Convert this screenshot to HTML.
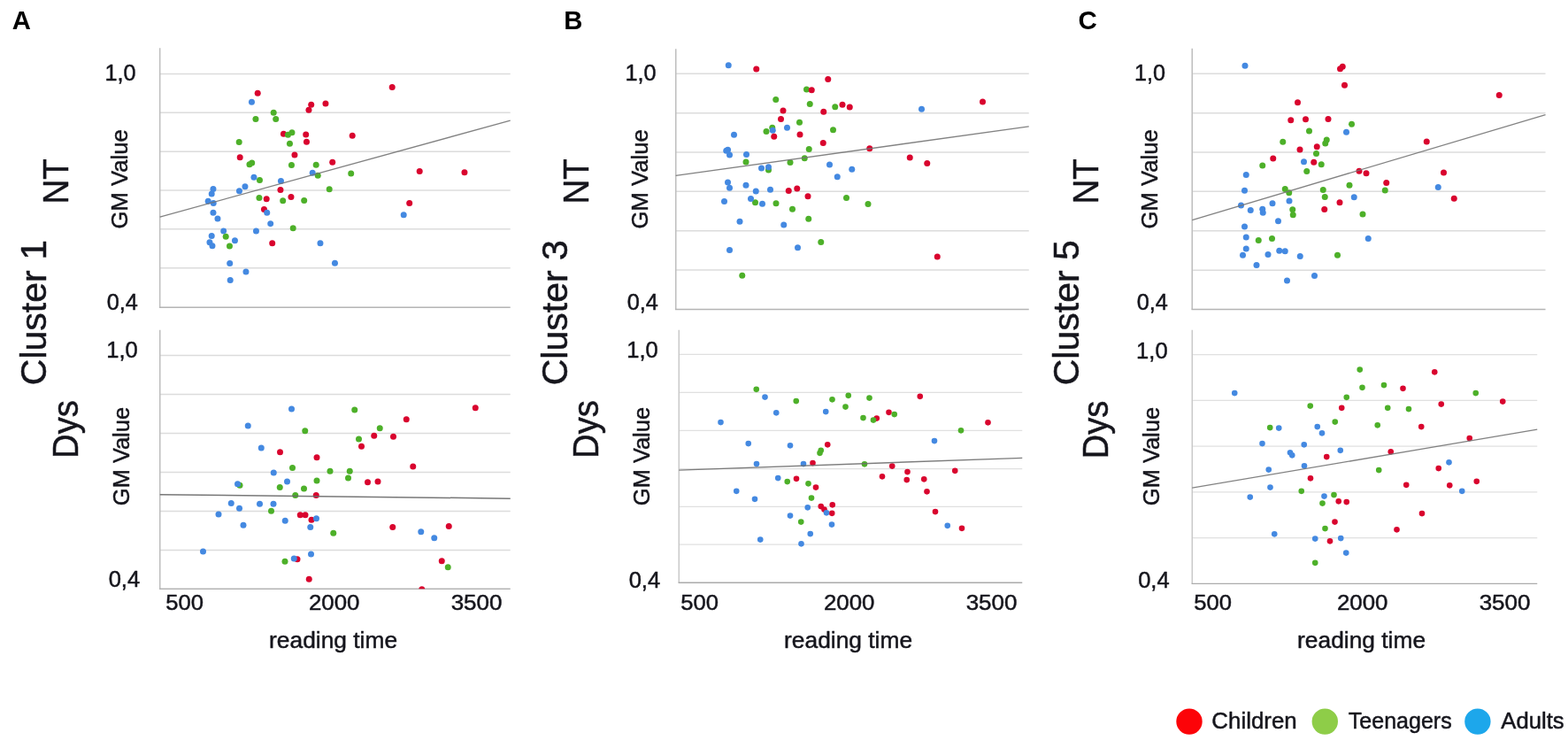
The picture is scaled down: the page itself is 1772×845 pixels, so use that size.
<!DOCTYPE html>
<html lang="en">
<head>
<meta charset="utf-8">
<title>Figure</title>
<style>
html,body{margin:0;padding:0;background:#fff;}
body{width:1772px;height:845px;overflow:hidden;}
svg{display:block;}
text{font-family:"Liberation Sans",sans-serif;fill:#15151c;}
.b{font-weight:bold;fill:#000;}
</style>
</head>
<body>
<svg width="1772" height="845" viewBox="0 0 1772 845">
<rect width="1772" height="845" fill="#fff"/>
<defs>
<clipPath id="cA1"><rect x="175.5" y="49" width="406.0" height="298.2"/></clipPath>
<clipPath id="cA2"><rect x="175.5" y="367.5" width="406.0" height="297.4"/></clipPath>
<clipPath id="cB1"><rect x="758.5" y="50" width="409.0" height="299.2"/></clipPath>
<clipPath id="cB2"><rect x="762" y="367.5" width="398" height="290.4"/></clipPath>
<clipPath id="cC1"><rect x="1342" y="49.5" width="409.29999999999995" height="299.7"/></clipPath>
<clipPath id="cC2"><rect x="1342" y="367.3" width="400" height="291.7"/></clipPath>
</defs>
<g transform="translate(0.2 0.15)">
<line x1="180.5" y1="83.3" x2="576.5" y2="83.3" stroke="#DCDCDC" stroke-width="1.5"/>
<line x1="180.5" y1="127.1" x2="576.5" y2="127.1" stroke="#DCDCDC" stroke-width="1.5"/>
<line x1="180.5" y1="171.0" x2="576.5" y2="171.0" stroke="#DCDCDC" stroke-width="1.5"/>
<line x1="180.5" y1="214.8" x2="576.5" y2="214.8" stroke="#DCDCDC" stroke-width="1.5"/>
<line x1="180.5" y1="258.7" x2="576.5" y2="258.7" stroke="#DCDCDC" stroke-width="1.5"/>
<line x1="180.5" y1="302.5" x2="576.5" y2="302.5" stroke="#DCDCDC" stroke-width="1.5"/>
<line x1="180.5" y1="54" x2="180.5" y2="347.2" stroke="#BEBEBE" stroke-width="1.5"/>
<line x1="179.75" y1="347.2" x2="576.5" y2="347.2" stroke="#B4B4B4" stroke-width="1.5"/>
<g clip-path="url(#cA1)">
<g fill="#D9042E">
<circle cx="443.0" cy="98.25" r="3.5"/>
<circle cx="291.0" cy="105.0" r="3.5"/>
<circle cx="351.5" cy="118.0" r="3.5"/>
<circle cx="367.75" cy="116.75" r="3.5"/>
<circle cx="348.75" cy="124.0" r="3.5"/>
<circle cx="320.25" cy="151.0" r="3.5"/>
<circle cx="345.5" cy="151.75" r="3.5"/>
<circle cx="346.25" cy="160.0" r="3.5"/>
<circle cx="398.0" cy="153.0" r="3.5"/>
<circle cx="271.0" cy="177.5" r="3.5"/>
<circle cx="332.75" cy="174.75" r="3.5"/>
<circle cx="375.5" cy="183.0" r="3.5"/>
<circle cx="474.0" cy="193.25" r="3.5"/>
<circle cx="524.75" cy="194.5" r="3.5"/>
<circle cx="316.75" cy="214.25" r="3.5"/>
<circle cx="301.0" cy="224.5" r="3.5"/>
<circle cx="328.75" cy="222.25" r="3.5"/>
<circle cx="462.5" cy="229.25" r="3.5"/>
<circle cx="298.25" cy="236.25" r="3.5"/>
<circle cx="307.5" cy="274.5" r="3.5"/>
</g>
<g fill="#4DB029">
<circle cx="309.0" cy="127.0" r="3.5"/>
<circle cx="288.75" cy="134.25" r="3.5"/>
<circle cx="311.5" cy="134.25" r="3.5"/>
<circle cx="329.75" cy="149.5" r="3.5"/>
<circle cx="325.25" cy="152.0" r="3.5"/>
<circle cx="270.0" cy="160.25" r="3.5"/>
<circle cx="327.25" cy="162.0" r="3.5"/>
<circle cx="284.5" cy="183.75" r="3.5"/>
<circle cx="281.75" cy="185.5" r="3.5"/>
<circle cx="329.25" cy="186.25" r="3.5"/>
<circle cx="357.0" cy="186.0" r="3.5"/>
<circle cx="396.5" cy="195.75" r="3.5"/>
<circle cx="359.0" cy="198.0" r="3.5"/>
<circle cx="293.25" cy="203.25" r="3.5"/>
<circle cx="372.0" cy="213.5" r="3.5"/>
<circle cx="292.75" cy="223.25" r="3.5"/>
<circle cx="319.5" cy="226.5" r="3.5"/>
<circle cx="343.5" cy="226.25" r="3.5"/>
<circle cx="331.0" cy="257.5" r="3.5"/>
<circle cx="255.0" cy="267.0" r="3.5"/>
<circle cx="259.25" cy="277.75" r="3.5"/>
</g>
<g fill="#4489E1">
<circle cx="284.25" cy="115.0" r="3.5"/>
<circle cx="353.0" cy="195.0" r="3.5"/>
<circle cx="286.75" cy="200.0" r="3.5"/>
<circle cx="317.25" cy="204.25" r="3.5"/>
<circle cx="276.75" cy="210.5" r="3.5"/>
<circle cx="270.25" cy="215.5" r="3.5"/>
<circle cx="240.75" cy="213.25" r="3.5"/>
<circle cx="239.0" cy="218.75" r="3.5"/>
<circle cx="235.0" cy="227.0" r="3.5"/>
<circle cx="241.0" cy="229.25" r="3.5"/>
<circle cx="240.75" cy="240.0" r="3.5"/>
<circle cx="245.75" cy="246.75" r="3.5"/>
<circle cx="301.5" cy="240.0" r="3.5"/>
<circle cx="305.5" cy="252.5" r="3.5"/>
<circle cx="456.0" cy="242.5" r="3.5"/>
<circle cx="252.5" cy="260.75" r="3.5"/>
<circle cx="289.25" cy="260.75" r="3.5"/>
<circle cx="239.0" cy="266.25" r="3.5"/>
<circle cx="236.75" cy="273.5" r="3.5"/>
<circle cx="239.75" cy="277.5" r="3.5"/>
<circle cx="265.25" cy="271.5" r="3.5"/>
<circle cx="259.5" cy="297.25" r="3.5"/>
<circle cx="277.75" cy="306.75" r="3.5"/>
<circle cx="260.0" cy="316.25" r="3.5"/>
<circle cx="361.75" cy="274.5" r="3.5"/>
<circle cx="378.25" cy="297.0" r="3.5"/>
</g>
</g>
<line x1="180.5" y1="244.9" x2="576.5" y2="136.0" stroke="#747474" stroke-width="1.3" stroke-opacity="0.9"/>
</g>
<g transform="translate(0.25 0.35)">
<line x1="180.5" y1="401.2" x2="576.5" y2="401.2" stroke="#DCDCDC" stroke-width="1.5"/>
<line x1="180.5" y1="445.2" x2="576.5" y2="445.2" stroke="#DCDCDC" stroke-width="1.5"/>
<line x1="180.5" y1="489.2" x2="576.5" y2="489.2" stroke="#DCDCDC" stroke-width="1.5"/>
<line x1="180.5" y1="533.1" x2="576.5" y2="533.1" stroke="#DCDCDC" stroke-width="1.5"/>
<line x1="180.5" y1="577.1" x2="576.5" y2="577.1" stroke="#DCDCDC" stroke-width="1.5"/>
<line x1="180.5" y1="621.1" x2="576.5" y2="621.1" stroke="#DCDCDC" stroke-width="1.5"/>
<line x1="180.5" y1="372.5" x2="180.5" y2="664.9" stroke="#BEBEBE" stroke-width="1.5"/>
<line x1="179.75" y1="664.9" x2="576.5" y2="664.9" stroke="#B4B4B4" stroke-width="1.5"/>
<g clip-path="url(#cA2)">
<g fill="#D9042E">
<circle cx="537.0" cy="460.5" r="3.5"/>
<circle cx="459.0" cy="473.5" r="3.5"/>
<circle cx="422.5" cy="492.0" r="3.5"/>
<circle cx="444.25" cy="493.0" r="3.5"/>
<circle cx="408.25" cy="504.0" r="3.5"/>
<circle cx="316.25" cy="510.5" r="3.5"/>
<circle cx="357.75" cy="516.5" r="3.5"/>
<circle cx="466.5" cy="526.75" r="3.5"/>
<circle cx="415.25" cy="544.5" r="3.5"/>
<circle cx="426.75" cy="543.75" r="3.5"/>
<circle cx="357.0" cy="559.25" r="3.5"/>
<circle cx="339.0" cy="581.5" r="3.5"/>
<circle cx="344.75" cy="581.5" r="3.5"/>
<circle cx="351.75" cy="587.0" r="3.5"/>
<circle cx="443.5" cy="595.25" r="3.5"/>
<circle cx="507.0" cy="594.25" r="3.5"/>
<circle cx="335.75" cy="631.5" r="3.5"/>
<circle cx="499.0" cy="633.5" r="3.5"/>
<circle cx="349.0" cy="654.0" r="3.5"/>
<circle cx="476.5" cy="665.5" r="3.5"/>
</g>
<g fill="#4DB029">
<circle cx="400.5" cy="462.75" r="3.5"/>
<circle cx="344.5" cy="486.5" r="3.5"/>
<circle cx="429.0" cy="483.5" r="3.5"/>
<circle cx="405.25" cy="495.75" r="3.5"/>
<circle cx="330.25" cy="528.25" r="3.5"/>
<circle cx="372.75" cy="532.0" r="3.5"/>
<circle cx="395.0" cy="532.0" r="3.5"/>
<circle cx="393.25" cy="539.75" r="3.5"/>
<circle cx="357.75" cy="542.75" r="3.5"/>
<circle cx="270.75" cy="548.0" r="3.5"/>
<circle cx="316.0" cy="550.25" r="3.5"/>
<circle cx="343.25" cy="551.75" r="3.5"/>
<circle cx="333.5" cy="559.25" r="3.5"/>
<circle cx="306.25" cy="577.0" r="3.5"/>
<circle cx="376.5" cy="602.0" r="3.5"/>
<circle cx="321.75" cy="634.0" r="3.5"/>
<circle cx="506.0" cy="640.5" r="3.5"/>
</g>
<g fill="#4489E1">
<circle cx="329.25" cy="461.75" r="3.5"/>
<circle cx="280.0" cy="480.75" r="3.5"/>
<circle cx="295.0" cy="505.75" r="3.5"/>
<circle cx="309.0" cy="533.75" r="3.5"/>
<circle cx="324.25" cy="543.75" r="3.5"/>
<circle cx="268.25" cy="546.5" r="3.5"/>
<circle cx="261.0" cy="568.25" r="3.5"/>
<circle cx="270.25" cy="574.0" r="3.5"/>
<circle cx="293.25" cy="569.0" r="3.5"/>
<circle cx="308.75" cy="569.0" r="3.5"/>
<circle cx="246.75" cy="580.75" r="3.5"/>
<circle cx="274.75" cy="593.0" r="3.5"/>
<circle cx="322.0" cy="588.0" r="3.5"/>
<circle cx="357.25" cy="585.5" r="3.5"/>
<circle cx="350.5" cy="595.25" r="3.5"/>
<circle cx="475.5" cy="600.5" r="3.5"/>
<circle cx="490.5" cy="607.5" r="3.5"/>
<circle cx="229.25" cy="622.75" r="3.5"/>
<circle cx="351.25" cy="625.75" r="3.5"/>
<circle cx="332.0" cy="630.75" r="3.5"/>
</g>
</g>
<line x1="180.5" y1="558.3" x2="576.5" y2="562.8" stroke="#686868" stroke-width="1.5" stroke-opacity="0.9"/>
</g>
<g transform="translate(0.25 0.35)">
<line x1="763.5" y1="83" x2="1162.5" y2="83" stroke="#DCDCDC" stroke-width="1.5"/>
<line x1="763.5" y1="127.3" x2="1162.5" y2="127.3" stroke="#DCDCDC" stroke-width="1.5"/>
<line x1="763.5" y1="171.7" x2="1162.5" y2="171.7" stroke="#DCDCDC" stroke-width="1.5"/>
<line x1="763.5" y1="216" x2="1162.5" y2="216" stroke="#DCDCDC" stroke-width="1.5"/>
<line x1="763.5" y1="260.3" x2="1162.5" y2="260.3" stroke="#DCDCDC" stroke-width="1.5"/>
<line x1="763.5" y1="304.7" x2="1162.5" y2="304.7" stroke="#DCDCDC" stroke-width="1.5"/>
<line x1="763.5" y1="55" x2="763.5" y2="349.2" stroke="#BEBEBE" stroke-width="1.5"/>
<line x1="762.75" y1="349.2" x2="1162.5" y2="349.2" stroke="#B4B4B4" stroke-width="1.5"/>
<g clip-path="url(#cB1)">
<g fill="#4DB029">
<circle cx="911.25" cy="100.75" r="3.5"/>
<circle cx="876.5" cy="112.25" r="3.5"/>
<circle cx="915.0" cy="117.25" r="3.5"/>
<circle cx="943.5" cy="120.5" r="3.5"/>
<circle cx="903.25" cy="138.0" r="3.5"/>
<circle cx="872.5" cy="144.0" r="3.5"/>
<circle cx="865.75" cy="148.25" r="3.5"/>
<circle cx="941.25" cy="146.5" r="3.5"/>
<circle cx="914.0" cy="168.25" r="3.5"/>
<circle cx="909.0" cy="178.5" r="3.5"/>
<circle cx="892.75" cy="183.25" r="3.5"/>
<circle cx="842.75" cy="182.75" r="3.5"/>
<circle cx="868.25" cy="191.75" r="3.5"/>
<circle cx="853.25" cy="228.5" r="3.5"/>
<circle cx="876.75" cy="229.5" r="3.5"/>
<circle cx="895.25" cy="236.0" r="3.5"/>
<circle cx="956.25" cy="223.25" r="3.5"/>
<circle cx="980.75" cy="230.25" r="3.5"/>
<circle cx="913.5" cy="247.0" r="3.5"/>
<circle cx="927.5" cy="273.25" r="3.5"/>
<circle cx="838.5" cy="311.0" r="3.5"/>
</g>
<g fill="#4489E1">
<circle cx="823.0" cy="73.5" r="3.5"/>
<circle cx="1041.25" cy="123.0" r="3.5"/>
<circle cx="889.25" cy="144.0" r="3.5"/>
<circle cx="873.0" cy="147.0" r="3.5"/>
<circle cx="829.25" cy="152.0" r="3.5"/>
<circle cx="820.5" cy="170.0" r="3.5"/>
<circle cx="824.25" cy="174.75" r="3.5"/>
<circle cx="843.25" cy="174.25" r="3.5"/>
<circle cx="937.25" cy="185.75" r="3.5"/>
<circle cx="962.5" cy="191.0" r="3.5"/>
<circle cx="946.0" cy="199.5" r="3.5"/>
<circle cx="860.25" cy="189.75" r="3.5"/>
<circle cx="868.25" cy="188.5" r="3.5"/>
<circle cx="822.25" cy="205.75" r="3.5"/>
<circle cx="824.25" cy="212.0" r="3.5"/>
<circle cx="842.75" cy="209.0" r="3.5"/>
<circle cx="854.0" cy="215.75" r="3.5"/>
<circle cx="870.25" cy="214.0" r="3.5"/>
<circle cx="848.25" cy="224.25" r="3.5"/>
<circle cx="818.25" cy="227.25" r="3.5"/>
<circle cx="861.25" cy="230.0" r="3.5"/>
<circle cx="835.75" cy="250.0" r="3.5"/>
<circle cx="885.5" cy="253.75" r="3.5"/>
<circle cx="824.25" cy="282.25" r="3.5"/>
<circle cx="901.25" cy="279.5" r="3.5"/>
<circle cx="822.3" cy="169.0" r="3.5"/>
</g>
<g fill="#D9042E">
<circle cx="854.5" cy="77.75" r="3.5"/>
<circle cx="935.5" cy="89.25" r="3.5"/>
<circle cx="917.0" cy="101.5" r="3.5"/>
<circle cx="951.75" cy="118.0" r="3.5"/>
<circle cx="960.0" cy="120.75" r="3.5"/>
<circle cx="1110.25" cy="114.75" r="3.5"/>
<circle cx="884.75" cy="124.75" r="3.5"/>
<circle cx="930.5" cy="126.0" r="3.5"/>
<circle cx="882.25" cy="134.25" r="3.5"/>
<circle cx="903.75" cy="151.75" r="3.5"/>
<circle cx="874.5" cy="154.0" r="3.5"/>
<circle cx="930.0" cy="161.25" r="3.5"/>
<circle cx="982.5" cy="167.5" r="3.5"/>
<circle cx="1028.0" cy="177.75" r="3.5"/>
<circle cx="1047.5" cy="184.25" r="3.5"/>
<circle cx="900.5" cy="212.75" r="3.5"/>
<circle cx="891.0" cy="215.25" r="3.5"/>
<circle cx="912.75" cy="221.5" r="3.5"/>
<circle cx="1059.0" cy="289.75" r="3.5"/>
</g>
</g>
<line x1="763.5" y1="198" x2="1162.5" y2="142.5" stroke="#747474" stroke-width="1.3" stroke-opacity="0.9"/>
</g>
<g transform="translate(0.25 0.35)">
<line x1="767" y1="400" x2="1155" y2="400" stroke="#E0E0E0" stroke-width="1.2"/>
<line x1="767" y1="443" x2="1155" y2="443" stroke="#E0E0E0" stroke-width="1.2"/>
<line x1="767" y1="486" x2="1155" y2="486" stroke="#E0E0E0" stroke-width="1.2"/>
<line x1="767" y1="529.2" x2="1155" y2="529.2" stroke="#E0E0E0" stroke-width="1.2"/>
<line x1="767" y1="572" x2="1155" y2="572" stroke="#E0E0E0" stroke-width="1.2"/>
<line x1="767" y1="614.8" x2="1155" y2="614.8" stroke="#E0E0E0" stroke-width="1.2"/>
<line x1="767" y1="372.5" x2="767" y2="657.9" stroke="#C4C4C4" stroke-width="1.35"/>
<line x1="766.325" y1="657.9" x2="1155" y2="657.9" stroke="#ABABAB" stroke-width="1.35"/>
<g clip-path="url(#cB2)">
<g fill="#D9042E">
<circle cx="1039.5" cy="447.5" r="3.3"/>
<circle cx="1004.25" cy="465.5" r="3.3"/>
<circle cx="990.5" cy="472.25" r="3.3"/>
<circle cx="1116.25" cy="477.0" r="3.3"/>
<circle cx="935.0" cy="502.0" r="3.3"/>
<circle cx="918.25" cy="522.75" r="3.3"/>
<circle cx="1008.0" cy="526.25" r="3.3"/>
<circle cx="1025.25" cy="532.75" r="3.3"/>
<circle cx="1079.0" cy="531.5" r="3.3"/>
<circle cx="996.75" cy="538.0" r="3.3"/>
<circle cx="1024.5" cy="541.75" r="3.3"/>
<circle cx="1044.0" cy="541.0" r="3.3"/>
<circle cx="899.75" cy="540.5" r="3.3"/>
<circle cx="921.75" cy="550.25" r="3.3"/>
<circle cx="1047.25" cy="555.0" r="3.3"/>
<circle cx="927.5" cy="571.75" r="3.3"/>
<circle cx="940.5" cy="570.0" r="3.3"/>
<circle cx="931.25" cy="575.25" r="3.3"/>
<circle cx="940.0" cy="579.5" r="3.3"/>
<circle cx="1056.75" cy="577.75" r="3.3"/>
<circle cx="1086.75" cy="596.5" r="3.3"/>
</g>
<g fill="#4DB029">
<circle cx="854.5" cy="439.5" r="3.3"/>
<circle cx="899.5" cy="452.75" r="3.3"/>
<circle cx="940.25" cy="451.0" r="3.3"/>
<circle cx="958.5" cy="446.5" r="3.3"/>
<circle cx="982.25" cy="449.25" r="3.3"/>
<circle cx="955.25" cy="459.25" r="3.3"/>
<circle cx="975.25" cy="471.75" r="3.3"/>
<circle cx="986.75" cy="474.25" r="3.3"/>
<circle cx="1010.5" cy="467.75" r="3.3"/>
<circle cx="1085.75" cy="486.0" r="3.3"/>
<circle cx="927.5" cy="508.5" r="3.3"/>
<circle cx="926.25" cy="511.5" r="3.3"/>
<circle cx="976.75" cy="524.0" r="3.3"/>
<circle cx="889.5" cy="543.75" r="3.3"/>
<circle cx="913.25" cy="546.0" r="3.3"/>
<circle cx="916.75" cy="562.25" r="3.3"/>
<circle cx="905.0" cy="589.25" r="3.3"/>
</g>
<g fill="#4489E1">
<circle cx="864.25" cy="448.25" r="3.3"/>
<circle cx="877.0" cy="466.0" r="3.3"/>
<circle cx="933.0" cy="464.75" r="3.3"/>
<circle cx="814.25" cy="476.75" r="3.3"/>
<circle cx="845.5" cy="500.75" r="3.3"/>
<circle cx="892.75" cy="503.0" r="3.3"/>
<circle cx="1055.75" cy="497.75" r="3.3"/>
<circle cx="854.75" cy="523.75" r="3.3"/>
<circle cx="907.75" cy="523.75" r="3.3"/>
<circle cx="879.0" cy="539.75" r="3.3"/>
<circle cx="832.0" cy="554.5" r="3.3"/>
<circle cx="852.75" cy="563.5" r="3.3"/>
<circle cx="912.5" cy="573.0" r="3.3"/>
<circle cx="933.75" cy="579.0" r="3.3"/>
<circle cx="892.75" cy="582.25" r="3.3"/>
<circle cx="939.75" cy="592.25" r="3.3"/>
<circle cx="1070.5" cy="593.5" r="3.3"/>
<circle cx="915.5" cy="602.75" r="3.3"/>
<circle cx="859.0" cy="609.25" r="3.3"/>
<circle cx="905.25" cy="614.0" r="3.3"/>
</g>
</g>
<line x1="767" y1="530.8" x2="1155" y2="517" stroke="#6E6E6E" stroke-width="1.4" stroke-opacity="0.9"/>
</g>
<g transform="translate(0.25 0.25)">
<line x1="1347" y1="83" x2="1746.3" y2="83" stroke="#DCDCDC" stroke-width="1.5"/>
<line x1="1347" y1="127.4" x2="1746.3" y2="127.4" stroke="#DCDCDC" stroke-width="1.5"/>
<line x1="1347" y1="171.7" x2="1746.3" y2="171.7" stroke="#DCDCDC" stroke-width="1.5"/>
<line x1="1347" y1="216" x2="1746.3" y2="216" stroke="#DCDCDC" stroke-width="1.5"/>
<line x1="1347" y1="260.4" x2="1746.3" y2="260.4" stroke="#DCDCDC" stroke-width="1.5"/>
<line x1="1347" y1="305" x2="1746.3" y2="305" stroke="#DCDCDC" stroke-width="1.5"/>
<line x1="1347" y1="54.5" x2="1347" y2="349.2" stroke="#BEBEBE" stroke-width="1.5"/>
<line x1="1346.25" y1="349.2" x2="1746.3" y2="349.2" stroke="#B4B4B4" stroke-width="1.5"/>
<g clip-path="url(#cC1)">
<g fill="#D9042E">
<circle cx="1517.0" cy="75.0" r="3.5"/>
<circle cx="1514.25" cy="77.5" r="3.5"/>
<circle cx="1519.25" cy="96.0" r="3.5"/>
<circle cx="1694.0" cy="107.25" r="3.5"/>
<circle cx="1466.25" cy="115.5" r="3.5"/>
<circle cx="1458.5" cy="135.5" r="3.5"/>
<circle cx="1475.25" cy="134.5" r="3.5"/>
<circle cx="1500.75" cy="134.25" r="3.5"/>
<circle cx="1612.0" cy="159.75" r="3.5"/>
<circle cx="1488.0" cy="165.5" r="3.5"/>
<circle cx="1468.75" cy="168.75" r="3.5"/>
<circle cx="1438.5" cy="178.75" r="3.5"/>
<circle cx="1484.5" cy="183.0" r="3.5"/>
<circle cx="1535.75" cy="193.0" r="3.5"/>
<circle cx="1543.75" cy="195.5" r="3.5"/>
<circle cx="1631.25" cy="194.75" r="3.5"/>
<circle cx="1566.5" cy="206.25" r="3.5"/>
<circle cx="1643.0" cy="224.0" r="3.5"/>
<circle cx="1513.75" cy="228.5" r="3.5"/>
<circle cx="1496.5" cy="236.25" r="3.5"/>
</g>
<g fill="#4DB029">
<circle cx="1527.25" cy="140.0" r="3.5"/>
<circle cx="1479.25" cy="147.75" r="3.5"/>
<circle cx="1449.5" cy="160.0" r="3.5"/>
<circle cx="1499.0" cy="157.75" r="3.5"/>
<circle cx="1497.5" cy="161.75" r="3.5"/>
<circle cx="1487.25" cy="173.25" r="3.5"/>
<circle cx="1493.0" cy="185.5" r="3.5"/>
<circle cx="1426.5" cy="186.75" r="3.5"/>
<circle cx="1476.5" cy="193.25" r="3.5"/>
<circle cx="1524.75" cy="209.0" r="3.5"/>
<circle cx="1452.0" cy="213.25" r="3.5"/>
<circle cx="1456.5" cy="217.5" r="3.5"/>
<circle cx="1495.0" cy="214.25" r="3.5"/>
<circle cx="1497.0" cy="222.25" r="3.5"/>
<circle cx="1565.0" cy="214.75" r="3.5"/>
<circle cx="1460.5" cy="236.5" r="3.5"/>
<circle cx="1461.0" cy="242.5" r="3.5"/>
<circle cx="1539.75" cy="241.75" r="3.5"/>
<circle cx="1422.0" cy="271.25" r="3.5"/>
<circle cx="1437.25" cy="269.25" r="3.5"/>
<circle cx="1511.25" cy="288.0" r="3.5"/>
</g>
<g fill="#4489E1">
<circle cx="1406.75" cy="74.0" r="3.5"/>
<circle cx="1521.25" cy="149.0" r="3.5"/>
<circle cx="1473.25" cy="182.5" r="3.5"/>
<circle cx="1408.0" cy="197.25" r="3.5"/>
<circle cx="1406.25" cy="215.0" r="3.5"/>
<circle cx="1625.0" cy="211.25" r="3.5"/>
<circle cx="1530.0" cy="222.5" r="3.5"/>
<circle cx="1456.75" cy="226.75" r="3.5"/>
<circle cx="1437.75" cy="229.5" r="3.5"/>
<circle cx="1402.25" cy="231.75" r="3.5"/>
<circle cx="1413.0" cy="237.25" r="3.5"/>
<circle cx="1426.5" cy="236.0" r="3.5"/>
<circle cx="1427.0" cy="240.0" r="3.5"/>
<circle cx="1444.25" cy="249.5" r="3.5"/>
<circle cx="1406.25" cy="255.75" r="3.5"/>
<circle cx="1408.0" cy="267.75" r="3.5"/>
<circle cx="1546.0" cy="269.25" r="3.5"/>
<circle cx="1408.0" cy="280.75" r="3.5"/>
<circle cx="1404.25" cy="288.0" r="3.5"/>
<circle cx="1432.75" cy="287.25" r="3.5"/>
<circle cx="1445.5" cy="283.0" r="3.5"/>
<circle cx="1452.0" cy="283.5" r="3.5"/>
<circle cx="1469.0" cy="289.25" r="3.5"/>
<circle cx="1419.75" cy="299.25" r="3.5"/>
<circle cx="1485.25" cy="311.25" r="3.5"/>
<circle cx="1454.25" cy="316.75" r="3.5"/>
</g>
</g>
<line x1="1347" y1="248.3" x2="1746.3" y2="129.3" stroke="#747474" stroke-width="1.3" stroke-opacity="0.9"/>
</g>
<g transform="translate(0.25 0.35)">
<line x1="1347" y1="400.3" x2="1737" y2="400.3" stroke="#E0E0E0" stroke-width="1.2"/>
<line x1="1347" y1="452" x2="1737" y2="452" stroke="#E0E0E0" stroke-width="1.2"/>
<line x1="1347" y1="503.7" x2="1737" y2="503.7" stroke="#E0E0E0" stroke-width="1.2"/>
<line x1="1347" y1="555.6" x2="1737" y2="555.6" stroke="#E0E0E0" stroke-width="1.2"/>
<line x1="1347" y1="607.3" x2="1737" y2="607.3" stroke="#E0E0E0" stroke-width="1.2"/>
<line x1="1347" y1="372.3" x2="1347" y2="659.0" stroke="#C4C4C4" stroke-width="1.35"/>
<line x1="1346.325" y1="659.0" x2="1737" y2="659.0" stroke="#ABABAB" stroke-width="1.35"/>
<g clip-path="url(#cC2)">
<g fill="#D9042E">
<circle cx="1621.0" cy="420.0" r="3.3"/>
<circle cx="1585.25" cy="438.5" r="3.3"/>
<circle cx="1698.0" cy="453.25" r="3.3"/>
<circle cx="1628.5" cy="456.25" r="3.3"/>
<circle cx="1516.0" cy="460.5" r="3.3"/>
<circle cx="1606.0" cy="481.75" r="3.3"/>
<circle cx="1660.5" cy="494.75" r="3.3"/>
<circle cx="1571.5" cy="510.0" r="3.3"/>
<circle cx="1499.0" cy="515.75" r="3.3"/>
<circle cx="1625.5" cy="528.75" r="3.3"/>
<circle cx="1480.75" cy="540.0" r="3.3"/>
<circle cx="1589.0" cy="547.5" r="3.3"/>
<circle cx="1638.0" cy="548.0" r="3.3"/>
<circle cx="1668.5" cy="543.5" r="3.3"/>
<circle cx="1512.5" cy="566.0" r="3.3"/>
<circle cx="1521.5" cy="566.75" r="3.3"/>
<circle cx="1606.75" cy="579.75" r="3.3"/>
<circle cx="1508.25" cy="589.25" r="3.3"/>
<circle cx="1578.25" cy="598.0" r="3.3"/>
<circle cx="1502.75" cy="611.0" r="3.3"/>
</g>
<g fill="#4DB029">
<circle cx="1536.5" cy="417.25" r="3.3"/>
<circle cx="1539.25" cy="437.5" r="3.3"/>
<circle cx="1563.75" cy="434.75" r="3.3"/>
<circle cx="1667.5" cy="443.75" r="3.3"/>
<circle cx="1521.5" cy="448.5" r="3.3"/>
<circle cx="1480.5" cy="458.25" r="3.3"/>
<circle cx="1568.0" cy="460.5" r="3.3"/>
<circle cx="1591.75" cy="461.75" r="3.3"/>
<circle cx="1508.5" cy="476.25" r="3.3"/>
<circle cx="1556.5" cy="480.0" r="3.3"/>
<circle cx="1435.0" cy="482.75" r="3.3"/>
<circle cx="1558.0" cy="530.75" r="3.3"/>
<circle cx="1470.5" cy="554.5" r="3.3"/>
<circle cx="1507.25" cy="558.75" r="3.3"/>
<circle cx="1494.25" cy="568.25" r="3.3"/>
<circle cx="1497.25" cy="596.75" r="3.3"/>
<circle cx="1486.0" cy="635.5" r="3.3"/>
</g>
<g fill="#4489E1">
<circle cx="1395.0" cy="443.75" r="3.3"/>
<circle cx="1445.0" cy="483.25" r="3.3"/>
<circle cx="1488.5" cy="481.75" r="3.3"/>
<circle cx="1493.75" cy="489.0" r="3.3"/>
<circle cx="1426.25" cy="500.75" r="3.3"/>
<circle cx="1473.5" cy="502.0" r="3.3"/>
<circle cx="1457.75" cy="511.0" r="3.3"/>
<circle cx="1460.0" cy="514.0" r="3.3"/>
<circle cx="1514.5" cy="508.5" r="3.3"/>
<circle cx="1473.75" cy="526.0" r="3.3"/>
<circle cx="1433.5" cy="530.25" r="3.3"/>
<circle cx="1637.25" cy="522.0" r="3.3"/>
<circle cx="1435.25" cy="550.25" r="3.3"/>
<circle cx="1652.0" cy="554.5" r="3.3"/>
<circle cx="1412.5" cy="561.25" r="3.3"/>
<circle cx="1496.25" cy="560.25" r="3.3"/>
<circle cx="1440.0" cy="603.0" r="3.3"/>
<circle cx="1486.0" cy="608.25" r="3.3"/>
<circle cx="1515.0" cy="607.75" r="3.3"/>
<circle cx="1521.0" cy="624.25" r="3.3"/>
</g>
</g>
<line x1="1347" y1="550.8" x2="1737" y2="484.8" stroke="#747474" stroke-width="1.3" stroke-opacity="0.9"/>
</g>
<text transform="translate(118.53 91.12) scale(0.9518 0.9933)" font-size="26.5" stroke="#15151c" stroke-width="0.5" stroke-linejoin="round">1,0</text>
<text transform="translate(706.53 91.12) scale(0.9518 0.9933)" font-size="26.5" stroke="#15151c" stroke-width="0.5" stroke-linejoin="round">1,0</text>
<text transform="translate(1282.03 91.12) scale(0.9518 0.9933)" font-size="26.5" stroke="#15151c" stroke-width="0.5" stroke-linejoin="round">1,0</text>
<text transform="translate(120.68 349.96) scale(0.9549 0.9843)" font-size="26.5" stroke="#15151c" stroke-width="0.5" stroke-linejoin="round">0,4</text>
<text transform="translate(708.68 349.96) scale(0.9549 0.9843)" font-size="26.5" stroke="#15151c" stroke-width="0.5" stroke-linejoin="round">0,4</text>
<text transform="translate(1284.68 350.36) scale(0.9549 0.9843)" font-size="26.5" stroke="#15151c" stroke-width="0.5" stroke-linejoin="round">0,4</text>
<text transform="translate(120.31 404.46) scale(0.9635 0.9843)" font-size="26.5" stroke="#15151c" stroke-width="0.5" stroke-linejoin="round">1,0</text>
<text transform="translate(708.31 404.46) scale(0.9635 0.9843)" font-size="26.5" stroke="#15151c" stroke-width="0.5" stroke-linejoin="round">1,0</text>
<text transform="translate(1284.11 404.96) scale(0.9635 0.9843)" font-size="26.5" stroke="#15151c" stroke-width="0.5" stroke-linejoin="round">1,0</text>
<text transform="translate(122.68 663.49) scale(0.9634 0.9753)" font-size="26.5" stroke="#15151c" stroke-width="0.5" stroke-linejoin="round">0,4</text>
<text transform="translate(710.68 663.99) scale(0.9634 0.9753)" font-size="26.5" stroke="#15151c" stroke-width="0.5" stroke-linejoin="round">0,4</text>
<text transform="translate(1286.18 663.99) scale(0.9634 0.9753)" font-size="26.5" stroke="#15151c" stroke-width="0.5" stroke-linejoin="round">0,4</text>
<text transform="translate(144.22 258.47) rotate(-90) scale(0.9702 0.9600)" font-size="26.5" stroke="#15151c" stroke-width="0.5" stroke-linejoin="round">GM Value</text>
<text transform="translate(732.22 258.47) rotate(-90) scale(0.9702 0.9600)" font-size="26.5" stroke="#15151c" stroke-width="0.5" stroke-linejoin="round">GM Value</text>
<text transform="translate(1307.72 258.47) rotate(-90) scale(0.9702 0.9600)" font-size="26.5" stroke="#15151c" stroke-width="0.5" stroke-linejoin="round">GM Value</text>
<text transform="translate(146.21 571.16) rotate(-90) scale(0.9605 0.9700)" font-size="26.5" stroke="#15151c" stroke-width="0.5" stroke-linejoin="round">GM Value</text>
<text transform="translate(734.22 571.16) rotate(-90) scale(0.9605 0.9700)" font-size="26.5" stroke="#15151c" stroke-width="0.5" stroke-linejoin="round">GM Value</text>
<text transform="translate(1309.72 571.16) rotate(-90) scale(0.9605 0.9700)" font-size="26.5" stroke="#15151c" stroke-width="0.5" stroke-linejoin="round">GM Value</text>
<text transform="translate(77.45 230.52) rotate(-90) scale(0.9392 1.0087)" font-size="41" stroke="#15151c" stroke-width="0.5" stroke-linejoin="round">NT</text>
<text transform="translate(665.45 230.52) rotate(-90) scale(0.9392 1.0087)" font-size="41" stroke="#15151c" stroke-width="0.5" stroke-linejoin="round">NT</text>
<text transform="translate(1240.95 230.52) rotate(-90) scale(0.9392 1.0087)" font-size="41" stroke="#15151c" stroke-width="0.5" stroke-linejoin="round">NT</text>
<text transform="translate(87.67 517.90) rotate(-90) scale(0.9323 1.0094)" font-size="41" stroke="#15151c" stroke-width="0.5" stroke-linejoin="round">Dys</text>
<text transform="translate(675.67 517.90) rotate(-90) scale(0.9323 1.0094)" font-size="41" stroke="#15151c" stroke-width="0.5" stroke-linejoin="round">Dys</text>
<text transform="translate(1251.97 518.40) rotate(-90) scale(0.9323 1.0094)" font-size="41" stroke="#15151c" stroke-width="0.5" stroke-linejoin="round">Dys</text>
<text transform="translate(52.46 435.26) rotate(-90) scale(0.9778 0.9873)" font-size="42" stroke="#15151c" stroke-width="0.5" stroke-linejoin="round">Cluster 1</text>
<text transform="translate(641.16 435.25) rotate(-90) scale(0.9763 0.9873)" font-size="42" stroke="#15151c" stroke-width="0.5" stroke-linejoin="round">Cluster 3</text>
<text transform="translate(1218.76 435.25) rotate(-90) scale(0.9763 0.9873)" font-size="42" stroke="#15151c" stroke-width="0.5" stroke-linejoin="round">Cluster 5</text>
<text transform="translate(187.25 688.72) scale(1.0049 0.9568)" font-size="25.5" stroke="#15151c" stroke-width="0.5" stroke-linejoin="round">500</text>
<text transform="translate(769.25 688.72) scale(1.0049 0.9568)" font-size="25.5" stroke="#15151c" stroke-width="0.5" stroke-linejoin="round">500</text>
<text transform="translate(1349.25 688.72) scale(1.0049 0.9568)" font-size="25.5" stroke="#15151c" stroke-width="0.5" stroke-linejoin="round">500</text>
<text transform="translate(348.89 688.72) scale(1.0145 0.9568)" font-size="25.5" stroke="#15151c" stroke-width="0.5" stroke-linejoin="round">2000</text>
<text transform="translate(930.89 688.72) scale(1.0145 0.9568)" font-size="25.5" stroke="#15151c" stroke-width="0.5" stroke-linejoin="round">2000</text>
<text transform="translate(1510.89 688.72) scale(1.0145 0.9568)" font-size="25.5" stroke="#15151c" stroke-width="0.5" stroke-linejoin="round">2000</text>
<text transform="translate(509.63 688.72) scale(1.0208 0.9568)" font-size="25.5" stroke="#15151c" stroke-width="0.5" stroke-linejoin="round">3500</text>
<text transform="translate(1091.63 688.72) scale(1.0208 0.9568)" font-size="25.5" stroke="#15151c" stroke-width="0.5" stroke-linejoin="round">3500</text>
<text transform="translate(1671.63 688.72) scale(1.0208 0.9568)" font-size="25.5" stroke="#15151c" stroke-width="0.5" stroke-linejoin="round">3500</text>
<text transform="translate(304.04 732.04) scale(0.9764 0.9490)" font-size="27" stroke="#15151c" stroke-width="0.5" stroke-linejoin="round">reading time</text>
<text transform="translate(886.04 732.04) scale(0.9764 0.9490)" font-size="27" stroke="#15151c" stroke-width="0.5" stroke-linejoin="round">reading time</text>
<text transform="translate(1466.04 732.04) scale(0.9764 0.9490)" font-size="27" stroke="#15151c" stroke-width="0.5" stroke-linejoin="round">reading time</text>
<text transform="translate(13.77 33.10) scale(0.9750 0.9854)" font-size="30" class="b">A</text>
<text transform="translate(637.25 32.90) scale(0.9753 0.9561)" font-size="30" class="b">B</text>
<text transform="translate(1218.57 33.06) scale(0.9846 0.9647)" font-size="30" class="b">C</text>
<text transform="translate(1369.30 823.40) scale(0.9958 1.0051)" font-size="26" stroke="#15151c" stroke-width="0.5" stroke-linejoin="round">Children</text>
<text transform="translate(1523.86 823.42) scale(0.9627 0.9957)" font-size="26" stroke="#15151c" stroke-width="0.5" stroke-linejoin="round">Teenagers</text>
<text transform="translate(1696.35 823.40) scale(0.9868 1.0051)" font-size="26" stroke="#15151c" stroke-width="0.5" stroke-linejoin="round">Adults</text>
<circle cx="1344" cy="815.1" r="14.7" fill="#FC0308"/>
<circle cx="1497.3" cy="815.1" r="14.7" fill="#8ECD48"/>
<circle cx="1669.9" cy="815.1" r="14.7" fill="#1DA7EB"/>
</svg>
</body>
</html>
